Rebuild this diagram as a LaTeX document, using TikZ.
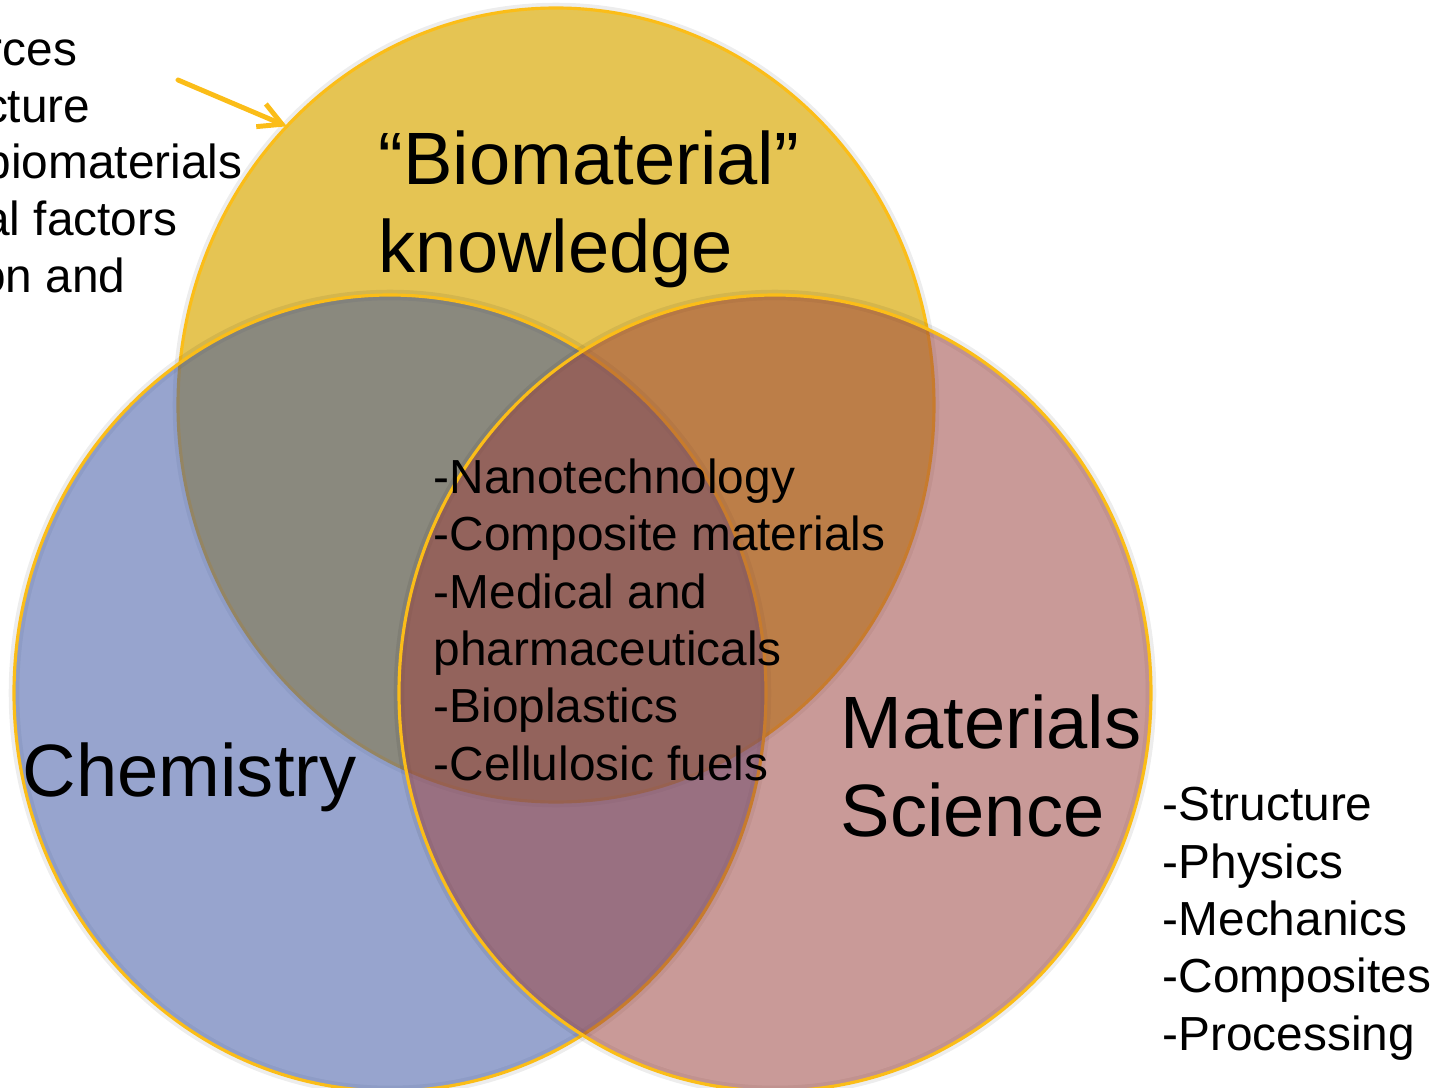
\documentclass[tikz,border=0pt]{standalone}
\usepackage{fontspec}
\setmainfont{Liberation Sans}
\usetikzlibrary{shapes.geometric,arrows.meta}

\definecolor{bioyellow}{RGB}{229,196,83}
\definecolor{chemblue}{RGB}{62,87,164}
\definecolor{matpink}{RGB}{155,68,64}
\definecolor{rimgold}{RGB}{251,189,24}

\begin{document}
\begin{tikzpicture}[
    big/.style={
        font=\fontsize{21.1}{25}\selectfont,
        align=left,
        anchor=base west,
        inner sep=0pt
    },
    list/.style={
        font=\fontsize{13.6}{16.3}\selectfont,
        align=left,
        anchor=base west,
        inner sep=0pt
    },
    side/.style={
        list,
        anchor=base east
    },
    venn/.style={
        ellipse,
        draw=rimgold,
        line width=0.9pt,
        minimum width=7.52cm,
        minimum height=7.96cm,
        inner sep=0pt,
        outer sep=0pt,
        preaction={draw=black, draw opacity=.07, line width=3pt}
    }
]

\useasboundingbox (0,0) rectangle (14.45,10.87);
\clip (0,0) rectangle (14.45,10.87);

\node[venn, fill=bioyellow, minimum width=7.56cm, minimum height=7.94cm] (bio) at (5.56,6.82) {};

\node[venn, fill=chemblue, fill opacity=.54] (chem) at (3.90,3.94) {};

\node[venn, fill=matpink, fill opacity=.54] (mat) at (7.75,3.94) {};

% multi-line nodes sit on the baseline of their last line
\node[big] (biotext) at (3.78,8.15) {
“Biomaterial”\\
knowledge
};

\node[big] (chemtext) at (0.22,2.91) {Chemistry};

\node[big] (mattext) at (8.40,2.51) {
Materials\\
Science
};

\node[list] (core) at (4.33,3.07) {
-Nanotechnology\\
-Composite materials\\
-Medical and\\
pharmaceuticals\\
-Bioplastics\\
-Cellulosic fuels
};

\node[list] (matlist) at (11.62,0.37) {
-Structure\\
-Physics\\
-Mechanics\\
-Composites\\
-Processing
};

\node[side] (src1) at (0.78,10.22) {rces};
\node[side] (src2) at (0.91,9.65) {cture};
\node[side] (src3) at (2.43,9.09) {biomaterials};
\node[side] (src4) at (1.78,8.52) {al factors};
\node[side] (src5) at (1.26,7.95) {on and};

\coordinate (pointer) at (1.78,10.07);
\draw[rimgold, line width=1.4pt, line cap=round,
    -{Straight Barb[length=6.5pt,width=7pt]}] (pointer) -- (bio.134);

\end{tikzpicture}
\end{document}
